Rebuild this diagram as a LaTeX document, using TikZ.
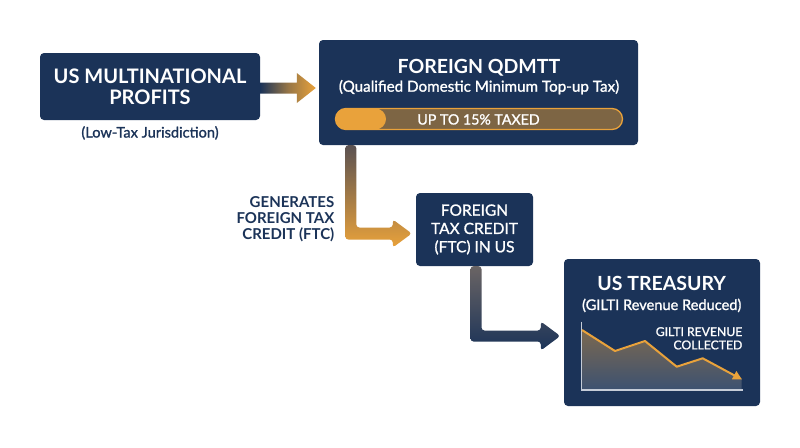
\documentclass[tikz,border=0pt]{standalone}
\usepackage{fontspec}
\setmainfont{Lato}
\newfontfamily\latomed[FakeBold=1.2]{Lato}
\usetikzlibrary{calc,arrows.meta}
\definecolor{navy}{HTML}{1B3358}
\definecolor{gold}{HTML}{E9A23B}
\definecolor{barfill}{HTML}{7D6544}
\definecolor{arrgray}{HTML}{5B5252}
\definecolor{arrgrayb}{HTML}{6A6464}
\definecolor{axis}{HTML}{C5CCD8}
\definecolor{chartfill}{HTML}{7A6850}
\begin{document}
\begin{tikzpicture}[x=1pt,y=-1pt,
  box/.style={fill=navy, rounded corners=4pt, inner sep=0pt},
  wt/.style={text=white, inner sep=0pt},
  nt/.style={text=navy, inner sep=0pt}]
\useasboundingbox (0,0) rectangle (800,447);
\fill[white] (0,0) rectangle (800,447);
% boxes
\node[box, minimum width=220pt, minimum height=67pt] (b1) at (150,86.5) {};
\node[box, minimum width=319pt, minimum height=105pt] (b2) at (478.5,92.5) {};
\node[box, minimum width=117pt, minimum height=73pt] (b3) at (474.5,229.5) {};
\node[box, minimum width=196pt, minimum height=147pt] (b4) at (662,332.5) {};
% box 1 text
\node[wt, align=center, font=\fontsize{20}{21}\selectfont\bfseries] (t1) at (b1.center) {US MULTINATIONAL\\PROFITS};
\node[nt, font=\fontsize{14.6}{16}\latomed, anchor=base] (t1s) at (150,137.5) {(Low-Tax Jurisdiction)};
% box 2 text
\node[wt, font=\fontsize{19.5}{21}\selectfont\bfseries, anchor=base] (t2) at (479,73.3) {FOREIGN QDMTT};
\node[wt, font=\fontsize{15.2}{16}\latomed, anchor=base] (t2s) at (479,91.7) {(Qualified Domestic Minimum Top-up Tax)};
\draw[gold, line width=1.3pt, fill=barfill, rounded corners=10.5pt] (335.5,108.5) rectangle (622.5,129.5);
\fill[gold, rounded corners=10.5pt] (335.5,108.5) rectangle (386,129.5);
\node[wt, font=\fontsize{14.2}{15}\latomed, anchor=base] (t2b) at (478.5,124.5) {UP TO 15\% TAXED};
% box 3 text
\node[wt, align=center, font=\fontsize{15.5}{18.3}\latomed] (t3) at (b3.center) {FOREIGN\\TAX CREDIT\\(FTC) IN US};
% label
\node[nt, align=right, font=\fontsize{15}{15.9}\selectfont\bfseries, anchor=east] (lab) at (334.5,219.5) {GENERATES\\FOREIGN TAX\\CREDIT (FTC)};
% box 4 text
\node[wt, font=\fontsize{19.5}{21}\selectfont\bfseries, anchor=base] (t4) at (661.7,290.7) {US TREASURY};
\node[wt, font=\fontsize{14.6}{16}\latomed, anchor=base] (t4s) at (661.7,310) {(GILTI Revenue Reduced)};
\node[wt, align=right, font=\fontsize{12.2}{13.3}\latomed, anchor=north east] (t4c) at (742.5,327) {GILTI REVENUE\\COLLECTED};
% chart
\shade[top color=chartfill, bottom color=navy!85!white] (582,330) -- (615,351) -- (645,341) -- (676.7,366.7) -- (702.7,358.3) -- (741.7,378.3) -- (741.7,390) -- (582,390) -- cycle;
\draw[axis, line width=1.1pt] (581.3,321.7) -- (581.3,390) -- (742.7,390);
\draw[gold, line width=2pt, line join=round, -{Triangle[length=9pt,width=9pt]}] (582,330) -- (615,351) -- (645,341) -- (676.7,366.7) -- (702.7,358.3) -- (742,379.5);
% arrow 1
\coordinate (tip1) at ($(b2.west|-b1.east)+(-3,1.5)$);
\shade[left color=navy, right color=gold, middle color=gold!60!navy]
  ($(b1.east)+(0,-4)$) -- ($(tip1)+(-19,-5.5)$) -- ($(tip1)+(-19,-15)$) -- (tip1)
  -- ($(tip1)+(-19,15)$) -- ($(tip1)+(-19,5.5)$) -- ($(b1.east)+(0,7)$) -- cycle;
% arrow 2
\coordinate (s2) at ($(b2.south west)+(32,0)$);
\coordinate (tip2) at ($(b3.west)+(-4,4)$);
\shade[top color=arrgray, middle color=gold, bottom color=gold, rounded corners=3pt]
  ($(s2)+(-5.5,0)$) -- ($(s2|-tip2)+(-5.5,6)$) -- ($(tip2)+(-19,6)$) -- ($(tip2)+(-19,14)$)
  -- (tip2) -- ($(tip2)+(-19,-14)$) -- ($(tip2)+(-19,-6)$) -- ($(s2|-tip2)+(5.5,-6)$)
  -- ($(s2)+(5.5,0)$) -- cycle;
% arrow 3
\coordinate (s3) at ($(b3.south)+(1.5,0)$);
\coordinate (tip3) at ($(b4.west)+(-3.5,3.5)$);
\shade[top color=arrgrayb, middle color=navy, bottom color=navy, rounded corners=3pt]
  ($(s3)+(-5.5,0)$) -- ($(s3|-tip3)+(-5.5,5.5)$) -- ($(tip3)+(-19.5,5.5)$) -- ($(tip3)+(-19.5,14.5)$)
  -- (tip3) -- ($(tip3)+(-19.5,-14.5)$) -- ($(tip3)+(-19.5,-5.5)$) -- ($(s3|-tip3)+(5.5,-5.5)$)
  -- ($(s3)+(5.5,0)$) -- cycle;
\end{tikzpicture}
\end{document}
